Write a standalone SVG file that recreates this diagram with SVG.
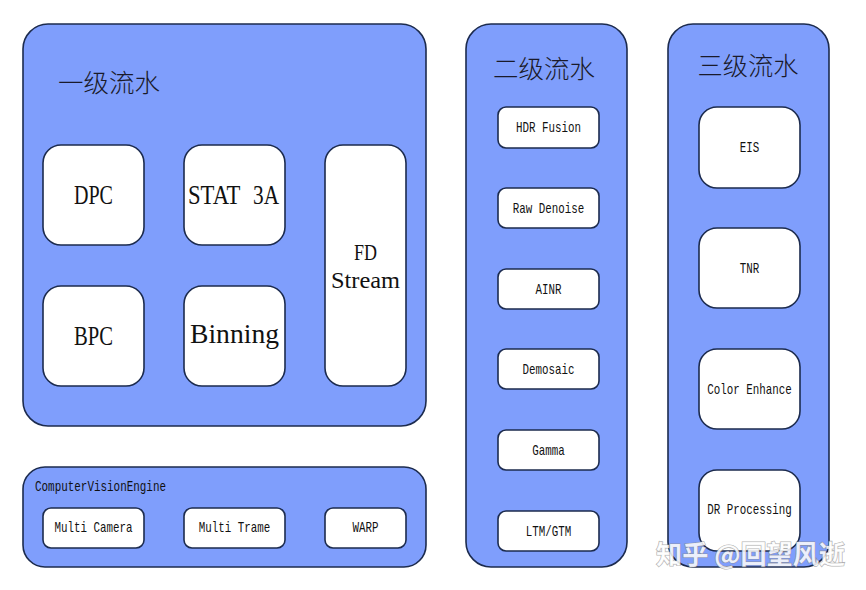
<svg xmlns="http://www.w3.org/2000/svg" width="866" height="590" viewBox="0 0 866 590">
<style>
.panel{fill:#7f9efc;stroke:#1c2b4e;stroke-width:1.6}
.node{fill:#ffffff;stroke:#1c2b4e;stroke-width:1.6}
.t{fill:#111111;text-anchor:middle}
.big{font-family:"Liberation Serif","DejaVu Serif",serif;font-size:27px}
.mid{font-family:"Liberation Serif","DejaVu Serif",serif;font-size:24px}
.sm{font-family:"Liberation Mono","DejaVu Sans Mono",monospace;font-size:15px}
.cjk{font-family:"Noto Sans CJK SC","Noto Sans CJK JP",sans-serif;font-size:25px;fill:#1a1a2a;font-weight:300}
.wm{font-family:"Noto Sans CJK SC",sans-serif;font-size:26px;font-weight:bold;fill:#ffffff;fill-opacity:0.85;stroke:#8a8a8a;stroke-opacity:0.7;stroke-width:1.2;paint-order:stroke}
</style>
<rect width="866" height="590" fill="#ffffff"/>
<g id="connectors"></g>

<g id="stage1">
<rect class="panel" x="23" y="24" width="403" height="402" rx="25"/>
<text class="cjk" x="58" y="92" textLength="102" lengthAdjust="spacingAndGlyphs">一级流水</text>
</g>
<g id="dpc"><rect class="node" x="43" y="145" width="101" height="100" rx="18"/><text class="t big" x="93.5" y="204" textLength="39" lengthAdjust="spacingAndGlyphs">DPC</text></g>
<g id="stat3a"><rect class="node" x="184" y="145" width="101" height="100" rx="18"/><text class="big" x="188" y="204" fill="#111111" xml:space="preserve"><tspan x="188" textLength="52" lengthAdjust="spacingAndGlyphs">STAT</tspan> <tspan x="253" textLength="26" lengthAdjust="spacingAndGlyphs">3A</tspan></text></g>
<g id="fdstream"><rect class="node" x="325" y="145" width="81" height="241" rx="18"/><text class="t mid" x="365.5" y="260" textLength="23" lengthAdjust="spacingAndGlyphs">FD</text><text class="t mid" x="365.5" y="288" textLength="69" lengthAdjust="spacingAndGlyphs">Stream</text></g>
<g id="bpc"><rect class="node" x="43" y="286" width="101" height="100" rx="18"/><text class="t big" x="93.5" y="345" textLength="39" lengthAdjust="spacingAndGlyphs">BPC</text></g>
<g id="binning"><rect class="node" x="184" y="286" width="101" height="100" rx="18"/><text class="t big" x="234.5" y="343" textLength="89" lengthAdjust="spacingAndGlyphs">Binning</text></g>

<g id="cve">
<rect class="panel" x="23" y="467" width="403" height="100" rx="22"/>
<text class="t sm" x="35" y="491" style="text-anchor:start" textLength="131" lengthAdjust="spacingAndGlyphs">ComputerVisionEngine</text>
</g>
<g id="multicamera"><rect class="node" x="43" y="508" width="101" height="40" rx="8"/><text class="t sm" x="93.5" y="532" textLength="78" lengthAdjust="spacingAndGlyphs">Multi Camera</text></g>
<g id="multitrame"><rect class="node" x="184" y="508" width="101" height="40" rx="8"/><text class="t sm" x="234.5" y="532" textLength="71.5" lengthAdjust="spacingAndGlyphs">Multi Trame</text></g>
<g id="warp"><rect class="node" x="325" y="508" width="81" height="40" rx="8"/><text class="t sm" x="365.5" y="532" textLength="26" lengthAdjust="spacingAndGlyphs">WARP</text></g>

<g id="stage2">
<rect class="panel" x="466" y="24" width="161" height="543" rx="25"/>
<text class="cjk" x="544" y="78" textLength="102" lengthAdjust="spacingAndGlyphs" style="text-anchor:middle">二级流水</text>
</g>
<g id="hdrfusion"><rect class="node" x="498" y="107" width="101" height="41" rx="8"/><text class="t sm" x="548.5" y="132" textLength="65" lengthAdjust="spacingAndGlyphs">HDR Fusion</text></g>
<g id="rawdenoise"><rect class="node" x="498" y="188" width="101" height="40" rx="8"/><text class="t sm" x="548.5" y="212.5" textLength="71.5" lengthAdjust="spacingAndGlyphs">Raw Denoise</text></g>
<g id="ainr"><rect class="node" x="498" y="269" width="101" height="40" rx="8"/><text class="t sm" x="548.5" y="293.5" textLength="26" lengthAdjust="spacingAndGlyphs">AINR</text></g>
<g id="demosaic"><rect class="node" x="498" y="349" width="101" height="40" rx="8"/><text class="t sm" x="548.5" y="373.5" textLength="52" lengthAdjust="spacingAndGlyphs">Demosaic</text></g>
<g id="gamma"><rect class="node" x="498" y="430" width="101" height="40" rx="8"/><text class="t sm" x="548.5" y="454.5" textLength="32.5" lengthAdjust="spacingAndGlyphs">Gamma</text></g>
<g id="ltmgtm"><rect class="node" x="498" y="511" width="101" height="40" rx="8"/><text class="t sm" x="548.5" y="535.5" textLength="45.5" lengthAdjust="spacingAndGlyphs">LTM/GTM</text></g>

<g id="stage3">
<rect class="panel" x="668" y="24" width="161" height="543" rx="25"/>
<text class="cjk" x="748" y="75" textLength="101" lengthAdjust="spacingAndGlyphs" style="text-anchor:middle">三级流水</text>
</g>
<g id="eis"><rect class="node" x="699" y="107" width="101" height="81" rx="18"/><text class="t sm" x="749.5" y="152" textLength="19.5" lengthAdjust="spacingAndGlyphs">EIS</text></g>
<g id="tnr"><rect class="node" x="699" y="228" width="101" height="80" rx="18"/><text class="t sm" x="749.5" y="272.5" textLength="19.5" lengthAdjust="spacingAndGlyphs">TNR</text></g>
<g id="colorenhance"><rect class="node" x="699" y="349" width="101" height="80" rx="18"/><text class="t sm" x="749.5" y="393.5" textLength="84.5" lengthAdjust="spacingAndGlyphs">Color Enhance</text></g>
<g id="drprocessing"><rect class="node" x="699" y="470" width="101" height="81" rx="18"/><text class="t sm" x="749.5" y="514" textLength="84.5" lengthAdjust="spacingAndGlyphs">DR Processing</text></g>

<text class="wm" x="656" y="564" textLength="189" lengthAdjust="spacingAndGlyphs">知乎 @回望风逝</text>
</svg>
